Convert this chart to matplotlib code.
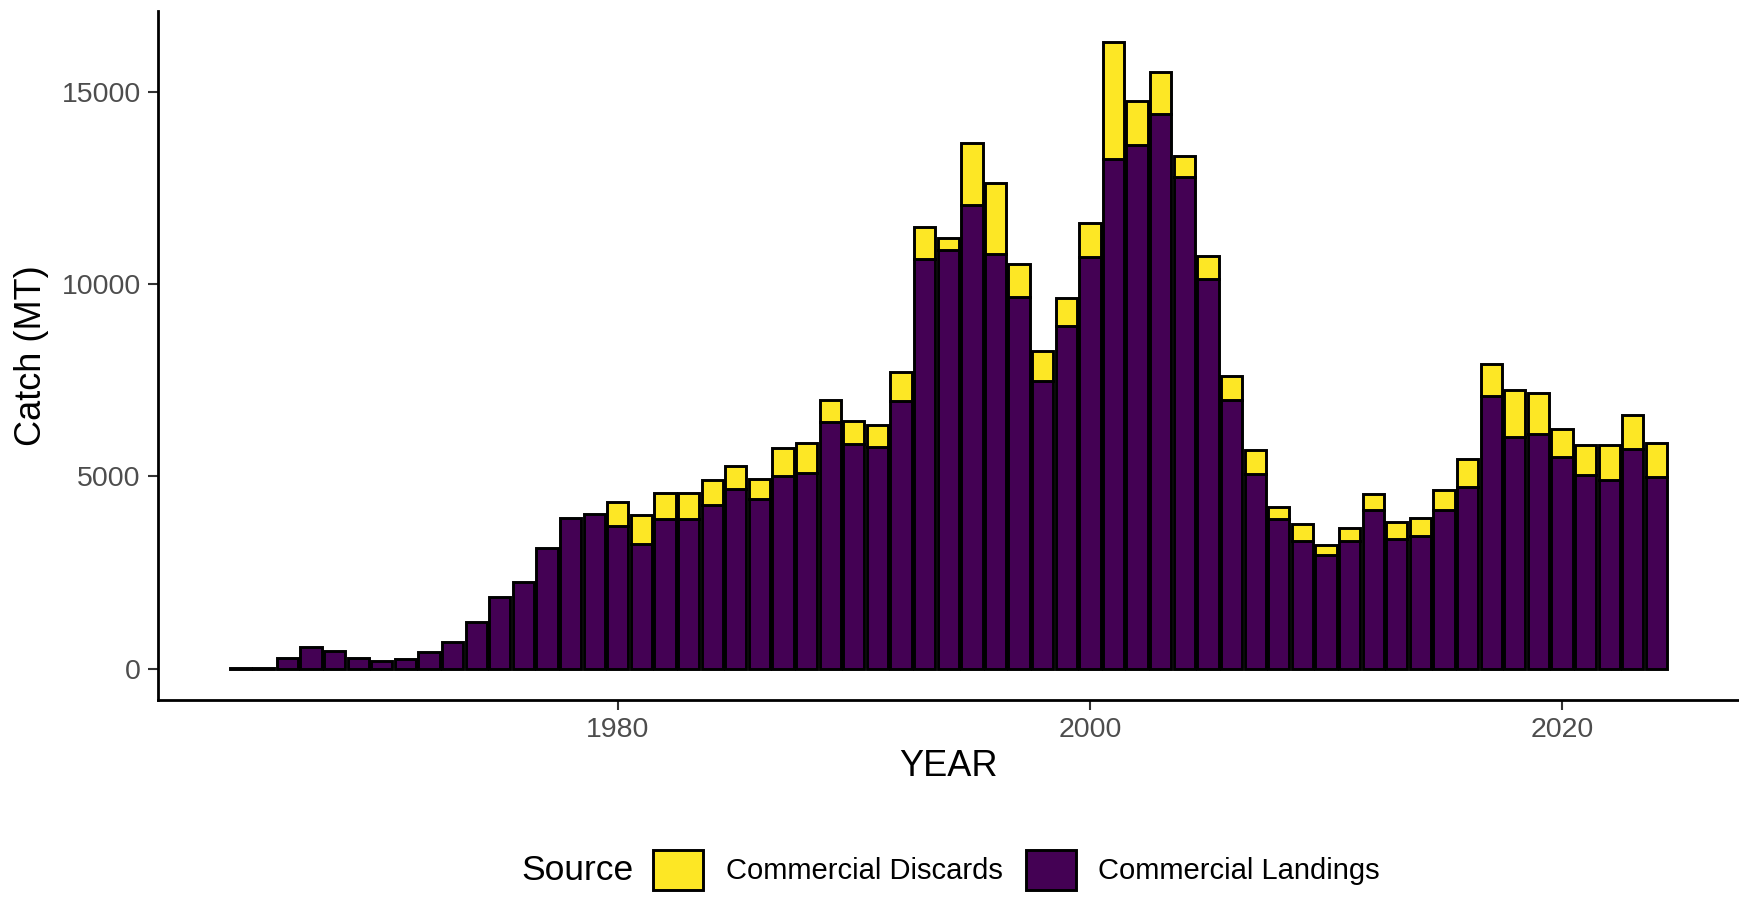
import numpy as np
import matplotlib
matplotlib.use("Agg")
import matplotlib.pyplot as plt
from matplotlib.patches import Patch

plt.rcParams['font.family'] = ['Liberation Sans', 'DejaVu Sans']

years = np.arange(1964, 2025)

landings = [25, 25, 280, 560, 465, 285, 190, 240, 430, 705,
            1215, 1870, 2250, 3130, 3925, 4015, 3700, 3230, 3885, 3885,
            4255, 4660, 4405, 5010, 5095, 6405, 5845, 5760, 6970, 10640,
            10875, 12050, 10790, 9655, 7480, 8920, 10700, 13255, 13620, 14420,
            12780, 10130, 6995, 5070, 3885, 3325, 2955, 3325, 4120, 3370,
            3455, 4120, 4725, 7090, 6030, 6090, 5510, 5035, 4905, 5700,
            4985]

discards = [0, 0, 0, 0, 0, 0, 0, 0, 0, 0,
            0, 0, 0, 0, 0, 0, 640, 775, 685, 685,
            640, 615, 535, 735, 775, 590, 590, 580, 735, 835,
            315, 1615, 1840, 875, 765, 725, 880, 3025, 1145, 1100,
            555, 595, 605, 605, 305, 430, 255, 345, 430, 445,
            465, 535, 715, 830, 1225, 1080, 725, 785, 915, 905,
            870]

sources = ["Commercial Discards", "Commercial Landings"]
fill_colors = {"Commercial Discards": "#FDE725", "Commercial Landings": "#440154"}

landings = np.array(landings)
discards = np.array(discards)
edge_lw = 2.1

fig = plt.figure(figsize=(17.39, 8.97), dpi=100)
ax = fig.add_axes([0.0906, 0.2196, 0.9094, 0.7681])

ax.bar(years, landings, width=0.9, bottom=0,
       color=fill_colors["Commercial Landings"], edgecolor="black", linewidth=edge_lw)
has_disc = discards > 0
ax.bar(years[has_disc], discards[has_disc], width=0.9, bottom=landings[has_disc],
       color=fill_colors["Commercial Discards"], edgecolor="black", linewidth=edge_lw)

ax.set_xlim(1960.5, 2027.5)
total = landings + discards
ax.set_ylim(-0.05 * total.max(), total.max() * 1.05)
ax.set_xticks([1980, 2000, 2020])
ax.set_yticks([0, 5000, 10000, 15000])

for side in ["top", "right"]:
    ax.spines[side].set_visible(False)
for side in ["left", "bottom"]:
    ax.spines[side].set_linewidth(2.0)
    ax.spines[side].set_color("black")

ax.tick_params(axis="both", length=7.5, width=1.5, color="#333333",
               labelsize=20.5, labelcolor="#4D4D4D", pad=4.5)

ax.set_xlabel("YEAR", fontsize=26, color="black", va="center", ha="center")
ax.set_ylabel("Catch (MT)", fontsize=26, color="black", va="center", ha="center")
ax.xaxis.set_label_coords(0.5, -0.097)
ax.yaxis.set_label_coords(-0.080, 0.5)

# legend along the bottom, title on the left
fig.text(521 / 1739, 1 - 870 / 897, "Source", fontsize=25.5, ha="left", va="center")
handles = [Patch(facecolor=fill_colors[s], edgecolor="black", linewidth=edge_lw) for s in sources]
fig.legend(handles, sources, ncol=2, loc="center left",
           bbox_to_anchor=(653 / 1739, 1 - 870 / 897), frameon=False,
           fontsize=21, handlelength=1.72, handleheight=1.72,
           handletextpad=0.78, columnspacing=0.78, borderpad=0, borderaxespad=0)

fig.savefig("out.png", dpi=100)
